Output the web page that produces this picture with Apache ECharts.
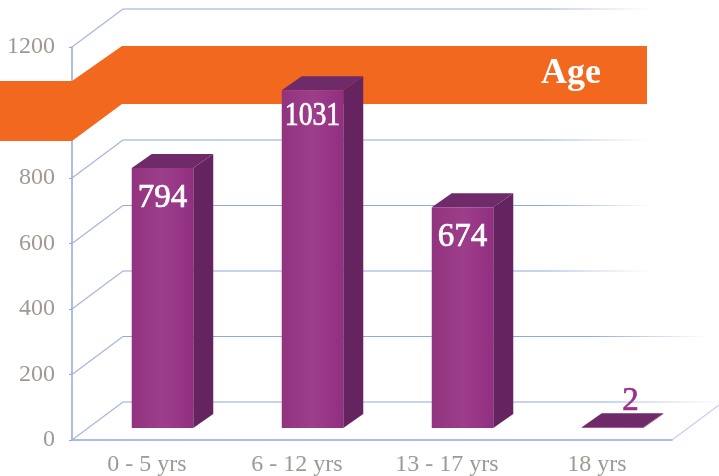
<!DOCTYPE html>
<html>
<head>
<meta charset="utf-8">
<style>
    html, body { margin: 0; padding: 0; background: #fff; }
    #chart { width: 719px; height: 476px; }
</style>
<script src="https://cdn.jsdelivr.net/npm/echarts@6/dist/echarts.min.js"></script>
</head>
<body>
<div id="chart"></div>
<script>
    // chart data
    var ageGroups = ["0 - 5 yrs", "6 - 12 yrs", "13 - 17 yrs", "18 yrs"];
    var counts = [794, 1031, 674, 2];
    var valueTicks = [0, 200, 400, 600, 800, 1000, 1200];
    var bannerTitle = "Age";

    // fake 3D settings, in pixels
    var wallDepth = { x: 51, y: -38 };
    var barFront = { x: 15.5, y: -12 };
    var barDepth = { x: 20, y: -14 };
    var barWidth = 61.5;
    var lineColor = "#8fa8de";
    var serif = '"Liberation Serif", serif';

    var chart = echarts.init(document.getElementById("chart"), null, { renderer: "canvas" });

    function renderWall(params, api) {
        var sys = params.coordSys;
        var y = api.coord([0, api.value(0)])[1];
        var x0 = sys.x;
        var x1 = sys.x + wallDepth.x;
        var y1 = y + wallDepth.y;
        var endX = sys.x + sys.width + wallDepth.x;
        // back lines fade out towards the right, less so near the floor
        var fadeEnd = api.value(0) === 0 ? endX : api.value(0) === 200 ? 705 : 650;
        var fade = new echarts.graphic.LinearGradient(x1, 0, fadeEnd, 0, [
            { offset: 0, color: lineColor },
            { offset: 0.8, color: lineColor },
            { offset: 1, color: "rgba(143,168,222,0)" }
        ], true);
        var children = [
            { type: "line", shape: { x1: x0, y1: y, x2: x1, y2: y1 }, style: { stroke: "#a9b5dc", lineWidth: 1.2 } },
            { type: "line", shape: { x1: x1, y1: y1, x2: fadeEnd, y2: y1 }, style: { stroke: fade, lineWidth: 1.2 } }
        ];
        if (api.value(0) === 0) {
            // right edge of the floor
            children.push({
                type: "line",
                shape: { x1: sys.x + sys.width, y1: y, x2: endX, y2: y1 },
                style: { stroke: "#c3cfea", lineWidth: 1.2 }
            });
        }
        return { type: "group", children: children };
    }

    function renderBar(params, api) {
        var base = api.coord([api.value(0), 0]);
        var top = api.coord([api.value(0), api.value(1)]);
        var l = base[0] - barWidth / 2 + barFront.x;
        var r = l + barWidth;
        var b = base[1] + barFront.y;
        var t = top[1] + barFront.y;
        var dx = barDepth.x;
        var dy = barDepth.y;
        var text = String(api.value(1));
        var isTall = b - t > 40;

        var children = [
            {
                type: "polygon",
                shape: { points: [[r, b], [r + dx, b + dy], [r + dx, t + dy], [r, t]] },
                style: { fill: "#65245f" }
            },
            {
                type: "polygon",
                shape: { points: [[l, t], [l + dx, t + dy], [r + dx, t + dy], [r, t]] },
                style: { fill: "#6f2a69" }
            },
            {
                type: "rect",
                shape: { x: l, y: t, width: r - l, height: b - t },
                style: {
                    fill: new echarts.graphic.LinearGradient(0, 0, 1, 0, [
                        { offset: 0, color: "#91337f" },
                        { offset: 0.5, color: "#9d3e8b" },
                        { offset: 1, color: "#912f80" }
                    ])
                }
            },
            {
                type: "text",
                // the four digit label is squeezed to fit the bar
                x: isTall ? (l + r) / 2 : (l + r) / 2 + 18,
                y: isTall ? t + (text.length > 3 ? 26 : 30) : t - 26,
                scaleX: text.length > 3 ? 0.84 : 1,
                style: {
                    text: text,
                    align: "center",
                    verticalAlign: "middle",
                    fill: isTall ? "#fff" : "#9a2f8c",
                    stroke: isTall ? "#fff" : "#9a2f8c",
                    lineWidth: 0.7,
                    font: "33px " + serif
                }
            }
        ];
        return { type: "group", children: children };
    }

    var option = {
        animation: false,
        backgroundColor: "#fff",
        grid: { left: 72, right: 47, top: 47, bottom: 36, outerBoundsMode: "none" },
        xAxis: {
            type: "category",
            data: ageGroups,
            boundaryGap: true,
            axisLine: { lineStyle: { color: lineColor, width: 1.5 } },
            axisTick: { length: 3, lineStyle: { color: lineColor } },
            axisLabel: { color: "#a09993", fontFamily: serif, fontSize: 24, margin: 13 }
        },
        yAxis: {
            type: "value",
            min: 0,
            max: 1200,
            interval: 200,
            splitLine: { show: false },
            axisLine: { show: true, lineStyle: { color: lineColor, width: 1.5 } },
            axisTick: { show: true, length: 3, lineStyle: { color: lineColor } },
            axisLabel: {
                color: "#a09993",
                fontFamily: serif,
                fontSize: 24,
                margin: 17,
                padding: [4, 0, 0, 0],
                formatter: function (v) { return String(v); }
            }
        },
        graphic: {
            elements: [
                {
                    type: "polygon",
                    z: 2,
                    shape: {
                        points: [[0, 81], [72, 81], [122, 46], [647, 46], [647, 104], [122, 104], [72, 141], [0, 141]]
                    },
                    style: { fill: "#f3681f" }
                },
                {
                    type: "text",
                    z: 2,
                    x: 571,
                    y: 74,
                    style: {
                        text: bannerTitle,
                        align: "center",
                        verticalAlign: "middle",
                        fill: "#fff",
                        font: "bold 36px " + serif
                    }
                }
            ]
        },
        series: [
            {
                type: "custom",
                z: 1,
                clip: false,
                silent: true,
                renderItem: renderWall,
                encode: { y: 0 },
                data: valueTicks.map(function (v) { return [v]; })
            },
            {
                type: "custom",
                z: 3,
                clip: false,
                silent: true,
                renderItem: renderBar,
                encode: { x: 0, y: 1 },
                data: counts.map(function (v, i) { return [i, v]; })
            }
        ]
    };

    chart.setOption(option);
</script>
</body>
</html>
